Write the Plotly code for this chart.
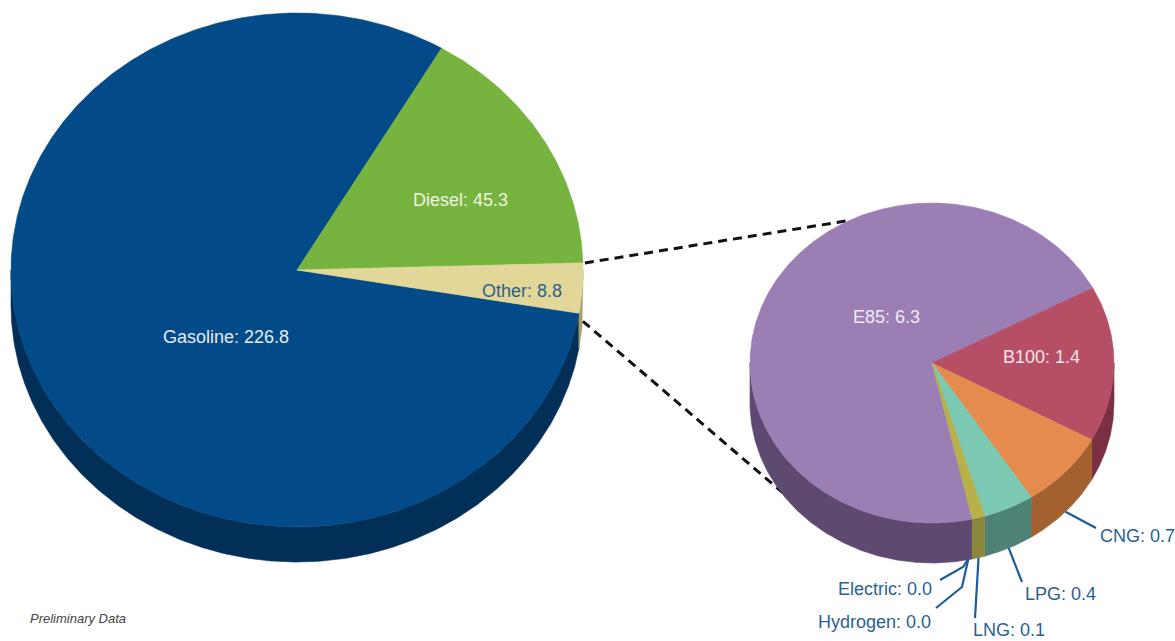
import numpy as np
import plotly.graph_objects as go

# ---- data -------------------------------------------------------------
main_labels = ["Gasoline", "Diesel", "Other"]
main_values = [226.8, 45.3, 8.8]

other_labels = ["E85", "B100", "CNG", "LPG", "LNG", "Hydrogen", "Electric"]
other_values = [6.3, 1.4, 0.7, 0.4, 0.1, 0.0, 0.0]

# ---- styling ----------------------------------------------------------
top_colors = {
    "Gasoline": "#024a88", "Diesel": "#77b33f", "Other": "#e2d798",
    "E85": "#9a7eb4", "B100": "#b64e66", "CNG": "#e58b4e", "LPG": "#7bc9b2",
    "LNG": "#b7b04b", "Hydrogen": "#c9b64a", "Electric": "#a9b84a",
}
side_colors = {
    "Gasoline": "#022f58", "Diesel": "#4e7a2a", "Other": "#a99f6b",
    "E85": "#5e4a71", "B100": "#7a3043", "CNG": "#a2612f", "LPG": "#4f8276",
    "LNG": "#8a863a", "Hydrogen": "#8f8437", "Electric": "#7c8a37",
}
FONT = "Liberation Sans, Arial, Helvetica, sans-serif"
W, H = 1175, 641

# pie geometry (plot units = pixels): centre, radii, extrusion depth, start angle
BIG = dict(cx=297, cy=270, rx=286, ry=257, depth=35, start=-9.7)
SMALL = dict(cx=932, cy=363, rx=182, ry=160, depth=40, start=-77.2)


def ellipse_pt(p, th, dy=0.0):
    t = np.radians(th)
    return p["cx"] + p["rx"] * np.cos(t), p["cy"] - p["ry"] * np.sin(t) + dy


def slice_angles(values, start):
    """Clockwise slices: returns list of (a_start, a_end) with a_end <= a_start."""
    total = float(sum(values))
    out, a = [], start
    for v in values:
        sweep = 360.0 * v / total
        out.append((a, a - sweep))
        a -= sweep
    return out


def arc(p, a_from, a_to, dy=0.0):
    n = max(2, int(abs(a_to - a_from) * 2) + 2)
    th = np.linspace(a_from, a_to, n)
    return ellipse_pt(p, th, dy)


fig = go.Figure()


def add_pie(p, labels, values):
    angs = slice_angles(values, p["start"])
    # extruded side walls (front half only)
    for lab, (a1, a2) in zip(labels, angs):
        if a1 - a2 <= 0:
            continue
        for k in range(-2, 2):
            lo = max(a2, -180 + 360 * k)
            hi = min(a1, 360 * k)
            if hi <= lo:
                continue
            xt, yt = arc(p, lo, hi)
            xb, yb = arc(p, hi, lo, p["depth"])
            xs = np.concatenate([xt, xb, xt[:1]])
            ys = np.concatenate([yt, yb, yt[:1]])
            fig.add_trace(go.Scatter(
                x=xs, y=ys, mode="lines", fill="toself",
                fillcolor=side_colors[lab],
                line=dict(color=side_colors[lab], width=0.6),
                hoverinfo="skip", showlegend=False))
    # top surface
    for lab, (a1, a2) in zip(labels, angs):
        if a1 - a2 <= 0:
            continue
        xa, ya = arc(p, a1, a2)
        xs = np.concatenate([[p["cx"]], xa, [p["cx"]]])
        ys = np.concatenate([[p["cy"]], ya, [p["cy"]]])
        fig.add_trace(go.Scatter(
            x=xs, y=ys, mode="lines", fill="toself",
            fillcolor=top_colors[lab],
            line=dict(color=top_colors[lab], width=0.6),
            hoverinfo="skip", showlegend=False))
    return angs


# main pie
big_angs = add_pie(BIG, main_labels, main_values)

# dashed connectors from the "Other" slice to the breakdown pie
o_a1, o_a2 = big_angs[main_labels.index("Other")]
x0u, y0u = ellipse_pt(BIG, o_a1)
x0l, y0l = ellipse_pt(BIG, o_a2)
x1u, y1u = ellipse_pt(SMALL, 117)
x1l, y1l = ellipse_pt(SMALL, 214, SMALL["depth"])
for xa, ya, xb, yb in [(x0u + 2, y0u, x1u, y1u), (x0l + 4, y0l + 8, x1l + 6, y1l + 4)]:
    fig.add_trace(go.Scatter(
        x=[xa, xb], y=[ya, yb], mode="lines",
        line=dict(color="#111111", width=3, dash="9px,6px"),
        hoverinfo="skip", showlegend=False))

# breakdown pie
small_angs = add_pie(SMALL, other_labels, other_values)

# ---- labels -----------------------------------------------------------
annotations = []
inner_pos = {
    "Gasoline": ((226, 337), "#e4ecf5"),
    "Diesel": ((460, 200), "#eef4e2"),
    "Other": ((522, 291), "#2d5f8c"),
    "E85": ((886, 317), "#f1ebf6"),
    "B100": ((1041, 357), "#f6e4e9"),
}
all_vals = dict(zip(main_labels + other_labels, main_values + other_values))
for lab, ((x, y), col) in inner_pos.items():
    annotations.append(dict(
        x=x, y=y, xref="x", yref="y", showarrow=False,
        text=f"{lab}: {all_vals[lab]:.1f}",
        font=dict(family=FONT, size=18, color=col),
        xanchor="center", yanchor="middle"))

# outside labels with leader lines
LEADER = "#1d5c9b"
LABEL_BLUE = "#2a5f94"
outer = {
    "CNG": dict(path=[(1096, 528)], text=(1098, 536), anchor="left"),
    "LPG": dict(path=[(1022, 582)], text=(1023, 594), anchor="left"),
    "LNG": dict(path=[(975, 618)], text=(971, 630), anchor="left"),
    "Hydrogen": dict(path=[(962, 587), (936, 608)], text=(933, 622), anchor="right"),
    "Electric": dict(path=[(963, 567), (940, 580)], text=(934, 589), anchor="right"),
}
for lab, spec in outer.items():
    a1, a2 = small_angs[other_labels.index(lab)]
    mid = (a1 + a2) / 2.0
    sx, sy = ellipse_pt(SMALL, mid, SMALL["depth"])
    if lab in ("Hydrogen", "Electric"):
        sx -= 4
    xs = [sx] + [pt[0] for pt in spec["path"]]
    ys = [sy] + [pt[1] for pt in spec["path"]]
    fig.add_trace(go.Scatter(
        x=xs, y=ys, mode="lines", line=dict(color=LEADER, width=2.2),
        hoverinfo="skip", showlegend=False))
    tx, ty = spec["text"]
    annotations.append(dict(
        x=tx, y=ty, xref="x", yref="y", showarrow=False,
        text=f"{lab}: {all_vals[lab]:.1f}",
        font=dict(family=FONT, size=18, color=LABEL_BLUE),
        xanchor=spec["anchor"], yanchor="middle"))

annotations.append(dict(
    x=28, y=618, xref="x", yref="y", showarrow=False,
    text="<i>Preliminary Data</i>",
    font=dict(family=FONT, size=13, color="#444444"),
    xanchor="left", yanchor="middle"))

fig.update_layout(
    width=W, height=H, autosize=False,
    margin=dict(l=0, r=0, t=0, b=0),
    paper_bgcolor="white", plot_bgcolor="white",
    showlegend=False, annotations=annotations,
    xaxis=dict(range=[0, W], visible=False, fixedrange=True),
    yaxis=dict(range=[H, 0], visible=False, fixedrange=True),
)

fig.write_html("out.html")
